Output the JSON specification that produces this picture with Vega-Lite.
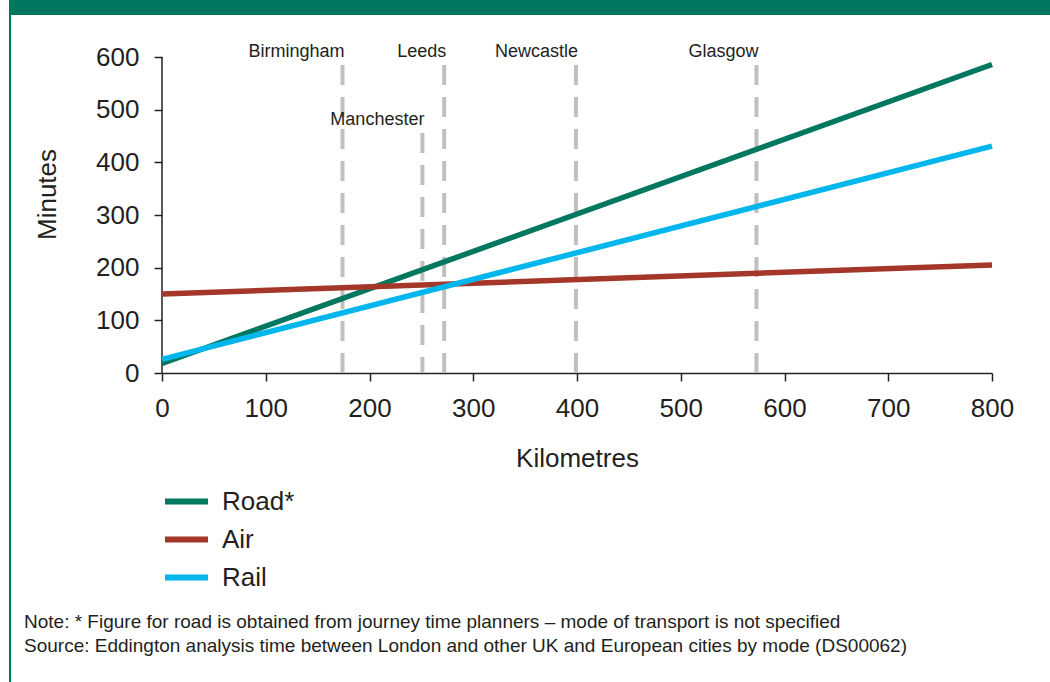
{
  "$schema": "https://vega.github.io/schema/vega-lite/v6.json",
  "padding": {"left": 9, "top": 0, "right": 0, "bottom": 0},
  "background": "white",
  "config": {"font": "Liberation Sans", "view": {"stroke": null}},
  "bounds": "flush",
  "spacing": 0,
  "resolve": {"legend": {"color": "independent"}},
  "vconcat": [
    {
      "width": 1041,
      "height": 15,
      "view": {"fill": "#00775f", "stroke": null},
      "data": {"values": [{}]},
      "mark": {"type": "text", "text": ""},
      "encoding": {}
    },
    {
      "bounds": "flush",
      "spacing": 151,
      "resolve": {"legend": {"color": "independent"}},
      "hconcat": [
        {
          "width": 2,
          "height": 667,
          "view": {"fill": "#00775f", "stroke": null},
          "data": {"values": [{}]},
          "mark": {"type": "text", "text": ""},
          "encoding": {}
        },
        {
          "width": 830,
          "height": 358,
          "title": {
            "text": [
              "Note: * Figure for road is obtained from journey time planners – mode of transport is not specified",
              "Source: Eddington analysis time between London and other UK and European cities by mode (DS00062)"
            ],
            "orient": "bottom",
            "anchor": "start",
            "frame": "group",
            "dx": -138,
            "offset": 22,
            "fontSize": 19,
            "fontWeight": "normal",
            "lineHeight": 24,
            "color": "#231f20"
          },
          "layer": [
            {
              "data": {"values": [
                {"city": "Birmingham", "km": 174, "top": 585, "label_y": 600},
                {"city": "Manchester", "km": 251, "top": 456, "label_y": 471},
                {"city": "Leeds", "km": 272, "top": 585, "label_y": 600},
                {"city": "Newcastle", "km": 399, "top": 585, "label_y": 600},
                {"city": "Glasgow", "km": 573, "top": 585, "label_y": 600}
              ]},
              "mark": {"type": "rule", "strokeDash": [20, 12], "strokeWidth": 4, "color": "#c0c0c0"},
              "encoding": {
                "x": {
                  "field": "km", "type": "quantitative",
                  "scale": {"domain": [0, 800], "nice": false},
                  "title": "Kilometres",
                  "axis": {
                    "values": [0, 100, 200, 300, 400, 500, 600, 700, 800],
                    "grid": false,
                    "domain": true,
                    "domainColor": "#222222",
                    "domainWidth": 1.5,
                    "tickSize": 8,
                    "tickColor": "#222222",
                    "tickWidth": 1.5,
                    "labelFontSize": 26,
                    "labelPadding": 14,
                    "labelColor": "#231f20",
                    "labelFlush": false,
                    "labelOverlap": false,
                    "titleFontSize": 26,
                    "titleFontWeight": "normal",
                    "titleColor": "#231f20",
                    "titlePadding": 24
                  }
                },
                "y": {
                  "field": "top", "type": "quantitative",
                  "scale": {"domain": [0, 680], "nice": false},
                  "title": "Minutes",
                  "axis": {
                    "values": [0, 100, 200, 300, 400, 500, 600],
                    "grid": false,
                    "domain": false,
                    "tickSize": 8,
                    "tickColor": "#222222",
                    "tickWidth": 1.5,
                    "labelFontSize": 26,
                    "labelPadding": 15,
                    "labelColor": "#231f20",
                    "labelFlush": false,
                    "labelOverlap": false,
                    "titleFontSize": 26,
                    "titleFontWeight": "normal",
                    "titleColor": "#231f20",
                    "titlePadding": 35
                  }
                },
                "y2": {"datum": 0}
              }
            },
            {
              "data": {"values": [
                {"city": "Birmingham", "km": 174, "top": 585, "label_y": 600},
                {"city": "Manchester", "km": 251, "top": 456, "label_y": 471},
                {"city": "Leeds", "km": 272, "top": 585, "label_y": 600},
                {"city": "Newcastle", "km": 399, "top": 585, "label_y": 600},
                {"city": "Glasgow", "km": 573, "top": 585, "label_y": 600}
              ]},
              "mark": {"type": "text", "align": "right", "baseline": "alphabetic", "dx": 2, "fontSize": 18, "color": "#231f20"},
              "encoding": {
                "x": {"field": "km", "type": "quantitative", "title": "Kilometres"},
                "y": {"field": "label_y", "type": "quantitative", "title": "Minutes"},
                "text": {"field": "city"}
              }
            },
            {
              "data": {"values": [{}]},
              "mark": {"type": "rule", "color": "#222222", "strokeWidth": 1.5},
              "encoding": {
                "x": {"datum": 0, "type": "quantitative"},
                "y": {"datum": 0, "type": "quantitative"},
                "y2": {"datum": 600}
              }
            },
            {
              "data": {"values": [
                {"mode": "Road*", "km": 0, "minutes": 18},
                {"mode": "Road*", "km": 800, "minutes": 586},
                {"mode": "Air", "km": 0, "minutes": 150},
                {"mode": "Air", "km": 800, "minutes": 205},
                {"mode": "Rail", "km": 0, "minutes": 26},
                {"mode": "Rail", "km": 800, "minutes": 431}
              ]},
              "mark": {"type": "line", "strokeWidth": 5.5, "strokeCap": "butt"},
              "encoding": {
                "x": {"field": "km", "type": "quantitative", "title": "Kilometres"},
                "y": {"field": "minutes", "type": "quantitative", "title": "Minutes"},
                "color": {
                  "field": "mode", "type": "nominal",
                  "scale": {"domain": ["Road*", "Air", "Rail"], "range": ["#00775f", "#a4372a", "#00b6ed"]},
                  "legend": {
                    "title": null,
                    "orient": "bottom",
                    "direction": "vertical",
                    "columns": 1,
                    "symbolType": "stroke",
                    "symbolSize": 1849,
                    "symbolStrokeWidth": 6,
                    "labelFontSize": 26,
                    "labelColor": "#231f20",
                    "labelOffset": 11,
                    "rowPadding": -5,
                    "offset": 6,
                    "padding": 0
                  }
                },
                "order": {"field": "km"}
              }
            }
          ]
        }
      ]
    }
  ]
}
